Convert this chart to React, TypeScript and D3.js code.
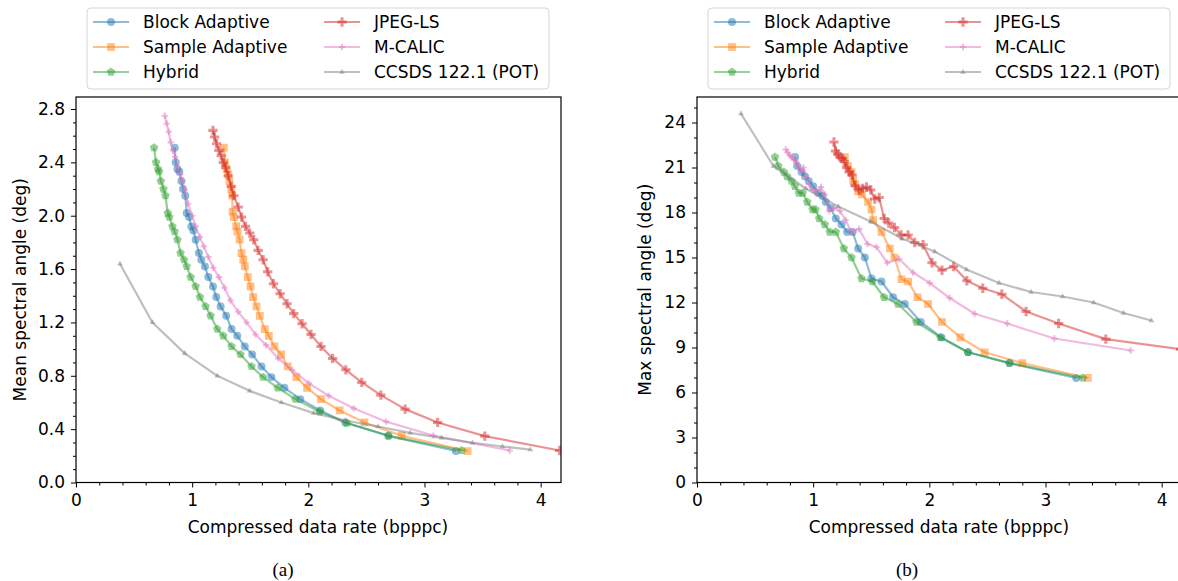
import { useRef, useEffect } from "react";
import * as d3 from "d3";

// ---- data ----
const methods = ["Block Adaptive", "Sample Adaptive", "Hybrid", "JPEG-LS", "M-CALIC", "CCSDS 122.1 (POT)"];
const colors = ["#1f77b4", "#ff7f0e", "#2ca02c", "#d62728", "#e377c2", "#7f7f7f"];

// (a) mean spectral angle
const blockRateA = [0.85, 0.858, 0.873, 0.89, 0.907, 0.921, 0.941, 0.953, 0.973, 0.993, 1.01, 1.03, 1.058, 1.079, 1.11, 1.139, 1.179, 1.208, 1.245, 1.293, 1.339, 1.388, 1.453, 1.517, 1.597, 1.682, 1.794, 1.931, 2.103, 2.318, 2.689, 3.27];
const blockMeanA = [2.51, 2.4, 2.35, 2.33, 2.26, 2.2, 2.15, 2.02, 1.99, 1.92, 1.89, 1.82, 1.72, 1.67, 1.62, 1.54, 1.47, 1.39, 1.32, 1.25, 1.15, 1.1, 1.02, 0.96, 0.87, 0.79, 0.71, 0.625, 0.54, 0.45, 0.35, 0.236];
const sampleRateA = [1.273, 1.282, 1.296, 1.31, 1.32, 1.336, 1.345, 1.348, 1.359, 1.379, 1.39, 1.408, 1.425, 1.44, 1.453, 1.479, 1.502, 1.525, 1.554, 1.582, 1.625, 1.66, 1.708, 1.766, 1.822, 1.897, 1.989, 2.109, 2.269, 2.483, 2.804, 3.371];
const sampleMeanA = [2.51, 2.4, 2.35, 2.31, 2.26, 2.2, 2.15, 2.03, 1.99, 1.92, 1.88, 1.82, 1.72, 1.67, 1.62, 1.54, 1.47, 1.39, 1.32, 1.25, 1.15, 1.1, 1.02, 0.96, 0.87, 0.79, 0.71, 0.625, 0.54, 0.45, 0.35, 0.236];
const hybridRateA = [0.672, 0.689, 0.706, 0.715, 0.73, 0.753, 0.77, 0.79, 0.804, 0.83, 0.85, 0.873, 0.9, 0.93, 0.953, 0.987, 1.03, 1.067, 1.116, 1.159, 1.216, 1.268, 1.339, 1.416, 1.511, 1.611, 1.737, 1.888, 2.097, 2.332, 2.689, 3.32];
const hybridMeanA = [2.51, 2.4, 2.35, 2.33, 2.26, 2.2, 2.15, 2.02, 1.99, 1.92, 1.88, 1.82, 1.72, 1.67, 1.62, 1.54, 1.47, 1.39, 1.32, 1.25, 1.15, 1.1, 1.02, 0.96, 0.87, 0.79, 0.71, 0.625, 0.53, 0.445, 0.35, 0.24];
const jpegRate = [1.179, 1.193, 1.21, 1.23, 1.25, 1.268, 1.288, 1.31, 1.336, 1.359, 1.396, 1.425, 1.459, 1.496, 1.53, 1.568, 1.611, 1.65, 1.7, 1.757, 1.817, 1.874, 1.946, 2.023, 2.109, 2.209, 2.323, 2.46, 2.624, 2.833, 3.113, 3.519, 4.163];
const jpegMeanA = [2.64, 2.59, 2.54, 2.49, 2.45, 2.4, 2.36, 2.3, 2.22, 2.15, 2.065, 1.99, 1.92, 1.87, 1.82, 1.74, 1.67, 1.58, 1.49, 1.415, 1.34, 1.266, 1.19, 1.11, 1.02, 0.93, 0.845, 0.75, 0.655, 0.55, 0.45, 0.348, 0.24];
const calicRate = [0.764, 0.781, 0.798, 0.815, 0.835, 0.853, 0.873, 0.895, 0.916, 0.936, 0.965, 1.0, 1.03, 1.067, 1.1, 1.139, 1.182, 1.23, 1.279, 1.33, 1.396, 1.468, 1.545, 1.637, 1.74, 1.86, 2.003, 2.175, 2.39, 2.67, 3.076, 3.734];
const calicMeanA = [2.75, 2.69, 2.63, 2.55, 2.49, 2.44, 2.36, 2.31, 2.26, 2.19, 2.09, 2.0, 1.92, 1.84, 1.77, 1.69, 1.61, 1.54, 1.46, 1.365, 1.28, 1.2, 1.11, 1.03, 0.93, 0.845, 0.745, 0.65, 0.556, 0.456, 0.352, 0.24];
const potRate = [0.378, 0.658, 0.936, 1.216, 1.494, 1.768, 2.046, 2.32, 2.6, 2.876, 3.147, 3.414, 3.671, 3.912];
const potMeanA = [1.64, 1.2, 0.968, 0.8, 0.687, 0.6, 0.52, 0.465, 0.42, 0.372, 0.335, 0.298, 0.27, 0.246];

// (b) max spectral angle
const blockRateB = [0.845, 0.862, 0.9, 0.93, 0.963, 1.0, 1.043, 1.08, 1.109, 1.15, 1.195, 1.244, 1.292, 1.34, 1.387, 1.445, 1.502, 1.588, 1.688, 1.789, 1.926, 2.104, 2.333, 2.69, 3.265];
const blockMaxB = [21.7, 21.1, 20.7, 20.4, 20.1, 19.75, 19.3, 19.1, 18.7, 18.3, 17.6, 17.2, 16.7, 16.7, 15.6, 15.0, 13.6, 13.4, 12.35, 11.9, 10.7, 9.67, 8.68, 7.96, 6.97];
const sampleRateB = [1.273, 1.3, 1.33, 1.344, 1.36, 1.387, 1.42, 1.473, 1.502, 1.516, 1.588, 1.66, 1.7, 1.76, 1.817, 1.898, 1.989, 2.109, 2.267, 2.476, 2.8, 3.365];
const sampleMaxB = [21.7, 21.1, 20.7, 20.15, 19.9, 19.4, 19.2, 18.7, 18.2, 17.5, 16.7, 15.6, 15.0, 13.55, 13.4, 12.35, 11.9, 10.7, 9.67, 8.68, 7.96, 6.97];
const hybridRateB = [0.671, 0.7, 0.748, 0.776, 0.814, 0.843, 0.877, 0.91, 0.949, 0.995, 1.02, 1.052, 1.1, 1.143, 1.195, 1.264, 1.33, 1.416, 1.51, 1.61, 1.731, 1.889, 2.095, 2.333, 2.69, 3.32];
const hybridMaxB = [21.7, 21.1, 20.7, 20.4, 20.1, 19.75, 19.3, 19.3, 18.7, 18.2, 18.2, 17.6, 17.2, 16.7, 16.7, 15.6, 15.0, 13.6, 13.4, 12.35, 11.9, 10.7, 9.67, 8.68, 7.96, 6.97];
const jpegMaxB = [22.7, 22.1, 21.9, 21.7, 21.6, 21.4, 21.0, 20.7, 20.5, 19.8, 19.5, 19.6, 19.7, 19.5, 18.9, 19.0, 17.6, 17.3, 17.0, 16.5, 16.5, 16.0, 15.85, 14.65, 14.15, 14.4, 13.45, 12.95, 12.55, 11.4, 10.6, 9.56, 8.88];
const calicMaxB = [22.2, 22.0, 21.8, 21.7, 21.5, 21.4, 21.1, 20.8, 21.0, 20.4, 19.9, 19.5, 19.4, 19.7, 19.2, 18.1, 18.3, 18.1, 17.5, 16.7, 16.9, 15.9, 15.7, 14.65, 14.9, 14.0, 13.3, 12.3, 11.25, 10.6, 9.6, 8.8];
const potMaxB = [24.6, 21.1, 19.6, 18.4, 17.4, 16.25, 15.4, 14.2, 13.3, 12.7, 12.4, 12.0, 11.3, 10.8];

const rateTicks = [0, 1, 2, 3, 4];
const meanTicks = [0, 0.4, 0.8, 1.2, 1.6, 2.0, 2.4, 2.8];
const maxTicks = [0, 3, 6, 9, 12, 15, 18, 21, 24];

// matplotlib 'p' marker
const symbolPentagon = {
  draw(ctx, size) {
    const r = Math.sqrt(size / (2.5 * Math.sin((2 * Math.PI) / 5)));
    for (let i = 0; i < 5; i++) {
      const a = -Math.PI / 2 + (i * 2 * Math.PI) / 5;
      if (i === 0) ctx.moveTo(r * Math.cos(a), r * Math.sin(a));
      else ctx.lineTo(r * Math.cos(a), r * Math.sin(a));
    }
    ctx.closePath();
  },
};
const markers = [
  { type: d3.symbolCircle, size: 50 },
  { type: d3.symbolSquare, size: 60 },
  { type: symbolPentagon, size: 48 },
  { type: d3.symbolCross, size: 48 },
  { type: d3.symbolCross, size: 22 },
  { type: d3.symbolTriangle, size: 14 },
];

const FONT = "DejaVu Sans, sans-serif";

export default function App() {
  const svgRef = useRef(null);

  useEffect(() => {
    const W = 1178;
    const H = 581;
    const svg = d3.select(svgRef.current);
    svg.selectAll("*").remove();
    svg.attr("width", W).attr("height", H).style("font-family", FONT);
    svg.append("rect").attr("width", W).attr("height", H).attr("fill", "#fff");

    const panels = [
      {
        left: 76, id: "a", yTicks: meanTicks, yMax: 2.89, yMinor: 0.1, fmt: d3.format(".1f"),
        ylabel: "Mean spectral angle (deg)", labelX: 20, caption: "(a)", captionX: 283,
        series: [
          [blockRateA, blockMeanA], [sampleRateA, sampleMeanA], [hybridRateA, hybridMeanA],
          [jpegRate, jpegMeanA], [calicRate, calicMeanA], [potRate, potMeanA],
        ],
      },
      {
        left: 697, id: "b", yTicks: maxTicks, yMax: 25.7, yMinor: 1, fmt: d3.format("d"),
        ylabel: "Max spectral angle (deg)", labelX: 645, caption: "(b)", captionX: 907,
        series: [
          [blockRateB, blockMaxB], [sampleRateB, sampleMaxB], [hybridRateB, hybridMaxB],
          [jpegRate, jpegMaxB], [calicRate, calicMaxB], [potRate, potMaxB],
        ],
      },
    ];

    const top = 97;
    const bottom = 482.5;
    const plotW = 485;

    panels.forEach((p) => {
      const x = d3.scaleLinear().domain([0, 4.175]).range([p.left, p.left + plotW]);
      const y = d3.scaleLinear().domain([0, p.yMax]).range([bottom, top]);
      const g = svg.append("g");

      g.append("clipPath").attr("id", "clip-" + p.id)
        .append("rect").attr("x", p.left).attr("y", top).attr("width", plotW).attr("height", bottom - top);

      // series
      const plot = g.append("g").attr("clip-path", `url(#clip-${p.id})`);
      p.series.forEach(([xs, ys], i) => {
        const pts = xs.map((v, k) => [v, ys[k]]);
        plot.append("path")
          .attr("d", d3.line().x((d) => x(d[0])).y((d) => y(d[1]))(pts))
          .attr("fill", "none")
          .attr("stroke", colors[i])
          .attr("stroke-width", 2.2)
          .attr("stroke-opacity", 0.5)
          .attr("stroke-linejoin", "round");
        const sym = d3.symbol().type(markers[i].type).size(markers[i].size);
        plot.selectAll(null).data(pts).join("path")
          .attr("d", sym)
          .attr("transform", (d) => `translate(${x(d[0])},${y(d[1])})`)
          .attr("fill", colors[i])
          .attr("fill-opacity", 0.5);
      });

      // axes
      const minorX = d3.range(0, 4.2, 0.2).filter((v) => Math.abs(v - Math.round(v)) > 1e-6);
      const minorY = d3.range(0, p.yMax, p.yMinor).filter((v) => !p.yTicks.some((t) => Math.abs(t - v) < 1e-6));

      const xAxis = g.append("g").attr("transform", `translate(0,${bottom})`)
        .call(d3.axisBottom(x).tickValues(rateTicks).tickSize(5).tickPadding(6).tickFormat(d3.format("d")));
      g.append("g").attr("transform", `translate(0,${bottom})`)
        .call(d3.axisBottom(x).tickValues(minorX).tickSize(3).tickFormat(() => ""));
      const yAxis = g.append("g").attr("transform", `translate(${p.left},0)`)
        .call(d3.axisLeft(y).tickValues(p.yTicks).tickSize(5).tickPadding(6).tickFormat(p.fmt));
      g.append("g").attr("transform", `translate(${p.left},0)`)
        .call(d3.axisLeft(y).tickValues(minorY).tickSize(3).tickFormat(() => ""));
      g.selectAll(".domain").remove();
      g.selectAll(".tick line").attr("stroke", "#000").attr("stroke-width", 1);
      [xAxis, yAxis].forEach((a) =>
        a.selectAll("text").attr("font-size", 17).attr("font-family", FONT).attr("fill", "#000"));

      g.append("rect")
        .attr("x", p.left).attr("y", top).attr("width", plotW).attr("height", bottom - top)
        .attr("fill", "none").attr("stroke", "#000").attr("stroke-width", 1.2);

      g.append("text")
        .attr("x", p.left + plotW / 2 - 0.5)
        .attr("y", 533)
        .attr("text-anchor", "middle")
        .attr("font-size", 17)
        .text("Compressed data rate (bpppc)");

      g.append("text")
        .attr("transform", `translate(${p.labelX + 6},${(top + bottom) / 2}) rotate(-90)`)
        .attr("text-anchor", "middle")
        .attr("font-size", 17)
        .text(p.ylabel);

      g.append("text")
        .attr("x", p.captionX)
        .attr("y", 576)
        .attr("text-anchor", "middle")
        .attr("font-family", "Liberation Serif, Times New Roman, serif")
        .attr("font-size", 19)
        .text(p.caption);

      // legend
      const lx = p.left + 11;
      const leg = g.append("g");
      leg.append("rect")
        .attr("x", lx).attr("y", 8).attr("width", 462).attr("height", 81).attr("rx", 4)
        .attr("fill", "#fff").attr("fill-opacity", 0.8)
        .attr("stroke", "#d6d6d6").attr("stroke-width", 1);
      methods.forEach((m, i) => {
        const col = Math.floor(i / 3);
        const row = i % 3;
        const hx = lx + 6 + col * 231;
        const hy = 22 + row * 25;
        leg.append("line")
          .attr("x1", hx).attr("x2", hx + 36).attr("y1", hy).attr("y2", hy)
          .attr("stroke", colors[i]).attr("stroke-width", 2.2).attr("stroke-opacity", 0.5);
        leg.append("path")
          .attr("d", d3.symbol().type(markers[i].type).size(markers[i].size)())
          .attr("transform", `translate(${hx + 18},${hy})`)
          .attr("fill", colors[i]).attr("fill-opacity", 0.5);
        leg.append("text")
          .attr("x", hx + 50).attr("y", hy)
          .attr("dy", "0.35em")
          .attr("font-size", 17)
          .text(m);
      });
    });
  }, []);

  return <svg ref={svgRef} style={{ position: "absolute", left: 0, top: 0 }} />;
}
